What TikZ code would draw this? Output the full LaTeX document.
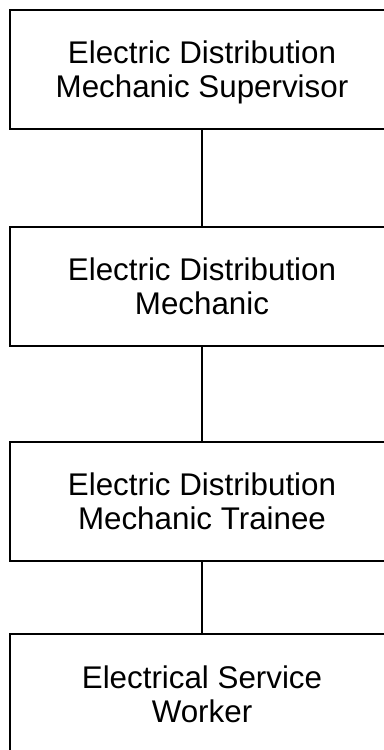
\documentclass[tikz,border=0pt]{standalone}
\usepackage{fontspec}
\setmainfont{Liberation Sans}
\usepackage{tikz}

\tikzset{
  jobbox/.style={draw=black, line width=1.3pt, fill=white, inner sep=0pt,
    minimum width=288pt, minimum height=89.5pt, align=center, text depth=0pt,
    font=\fontsize{23.5}{25.5}\selectfont},
  jobline/.style={draw=black, line width=1.1pt}
}

\begin{document}
\begin{tikzpicture}[x=0.75pt,y=0.75pt]
            \useasboundingbox (0,0) rectangle (384,-750);
            % boxes of the career ladder
            \node [jobbox] (sup) at (202,-69.5) {Electric Distribution\\Mechanic Supervisor};
            \node [jobbox] (mech) at (202,-286.5) {Electric Distribution\\Mechanic};
            \node [jobbox] (trainee) at (202,-501.5) {Electric Distribution\\Mechanic Trainee};
            \node [jobbox] (worker) at (202,-694) {Electrical Service\\Worker};
            % connectors
            \draw [jobline] (sup.south) -- (mech.north);
            \draw [jobline] (mech.south) -- (trainee.north);
            \draw [jobline] (trainee.south) -- (worker.north);
        \end{tikzpicture}
\end{document}
